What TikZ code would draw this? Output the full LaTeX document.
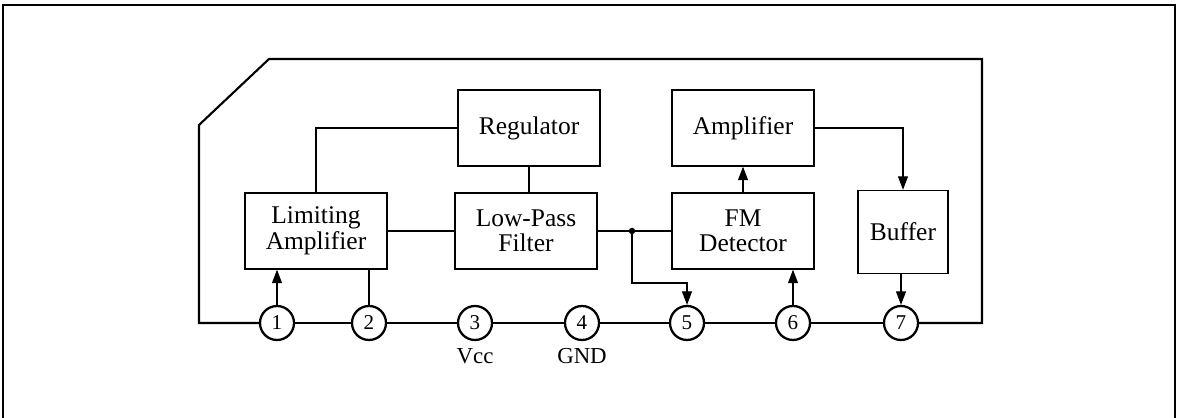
\documentclass[tikz,border=0pt]{standalone}
\usepackage{fontspec}
\setmainfont{Liberation Serif}
\usepackage{tikz}
\usetikzlibrary{positioning,arrows.meta}

\begin{document}
\begin{tikzpicture}[
    x=0.02cm, y=-0.02cm,
    blockStyle/.style={rectangle, draw=black, line width=0.8pt, minimum width=2.84cm, minimum height=1.52cm, align=center, font=\fontsize{14.5}{14.5}\selectfont, inner sep=2pt},
    pinStyle/.style={circle, draw=black, line width=1.3pt, minimum size=0.68cm, inner sep=0pt, fill=white, font=\fontsize{12}{12}\selectfont},
    pinLabel/.style={font=\fontsize{13}{13}\selectfont, inner sep=1pt},
    wireStyle/.style={line width=0.6pt, draw=black},
    arrowStyle/.style={wireStyle, -{Triangle[length=0.27cm, width=0.2cm]}}
]
    \useasboundingbox (0,0) rectangle (1177,418);
    % page frame
    \draw[line width=0.6pt] (3,418) -- (3,5) -- (1175,5) -- (1175,418);

    \node[blockStyle] (reg) at (529,128) {Regulator};
    \node[blockStyle] (lim) at (316,231) {Limiting\\Amplifier};
    \node[blockStyle] (lpf) at (526,231) {Low-Pass\\Filter};
    \node[blockStyle] (amp) at (743,128) {Amplifier};
    \node[blockStyle] (fmd) at (743,231) {FM\\Detector};
    \node[blockStyle, minimum width=1.8cm, minimum height=1.66cm] (buf) at (903,232) {Buffer};

    \node[pinStyle] (p1) at (277,323) {1};
    \node[pinStyle] (p2) at (369,323) {2};
    \node[pinStyle] (p3) at (475,323) {3};
    \node[pinStyle] (p4) at (582,323) {4};
    \node[pinStyle] (p5) at (687,323) {5};
    \node[pinStyle] (p6) at (793,323) {6};
    \node[pinStyle] (p7) at (901,323) {7};

    \node[pinLabel, below=3pt of p3] (vcc) {Vcc};
    \node[pinLabel, below=3pt of p4] (gnd) {GND};

    % package outline
    \coordinate (pkgBL) at (199,323);
    \coordinate (pkgML) at (199,125);
    \coordinate (pkgTL) at (269,59);
    \coordinate (pkgTR) at (982,59);
    \coordinate (pkgBR) at (982,323);
    \draw[line width=1.2pt] (p1) -- (pkgBL) -- (pkgML) -- (pkgTL) -- (pkgTR) -- (pkgBR) -- (p7);
    \draw[line width=1.2pt] (p1) -- (p2) -- (p3) -- (p4) -- (p5) -- (p6) -- (p7);

    % signal connections
    \draw[wireStyle] (reg.west) -| (lim.north);
    \draw[wireStyle] (reg.south) -- (reg.south |- lpf.north);
    \draw[wireStyle] (lim.east) -- (lpf.west);
    \coordinate (tap) at (632,231);
    \draw[wireStyle] (lpf.east) -- (fmd.west);
    \fill (tap) circle (0.065cm);
    \draw[arrowStyle] (tap) -- ++(0,52) -| (p5.north);
    \draw[arrowStyle] (p6.north) -- (p6.north |- fmd.south);
    \draw[arrowStyle] (fmd.north) -- (amp.south);
    \draw[arrowStyle] (amp.east) -| (buf.north);
    \draw[arrowStyle] (p7 |- buf.south) -- (p7.north);
    \draw[arrowStyle] (p1.north) -- (p1 |- lim.south);
    \draw[wireStyle] (p2.north) -- (p2 |- lim.south);
\end{tikzpicture}
\end{document}
